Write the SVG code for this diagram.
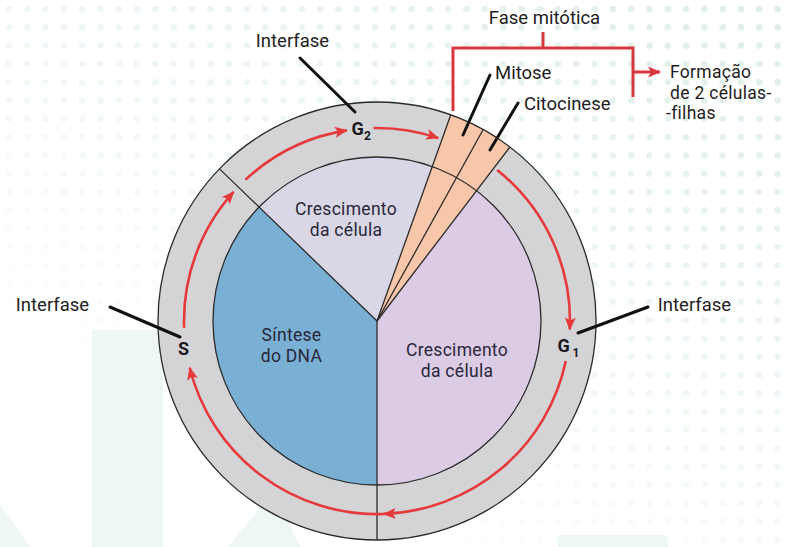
<svg xmlns="http://www.w3.org/2000/svg" width="792" height="547" viewBox="0 0 792 547">
<defs>
  <style>
    text { font-family: Roboto, "Liberation Sans", sans-serif; fill: #1f1d22; }
    .lbl { font-size: 18.5px; }
    .ml { font-size: 17.5px; letter-spacing: 0.3px; }
    .ph { font-size: 18px; font-weight: bold; fill: #1a181c; }
    .sub { font-size: 12px; font-weight: bold; fill: #1a181c; }
    .pie { font-size: 17.5px; letter-spacing: 0.3px; fill: #29273a; }
    .edge { stroke: #2a2a2a; stroke-width: 1.3; fill: none; }
    .leader { stroke: #111; stroke-width: 3; stroke-linecap: round; fill: none; }
    .cyc { stroke: #e5393c; stroke-width: 2.6; fill: none; marker-end: url(#ah); }
    .brk { stroke: #d8373d; stroke-width: 3; fill: none; }
    .wm { fill: #eef7f3; }
  </style>
  <marker id="ah" markerUnits="userSpaceOnUse" markerWidth="14" markerHeight="12" refX="12" refY="5.5" orient="auto">
    <path d="M0,0 L13,5.5 L0,11 L3,5.5 Z" fill="#e5393c"/>
  </marker>
  <marker id="ahb" markerUnits="userSpaceOnUse" markerWidth="14" markerHeight="12" refX="12" refY="5.5" orient="auto">
    <path d="M0,0 L13,5.5 L0,11 L3,5.5 Z" fill="#d8373d"/>
  </marker>
  <pattern id="dots" width="18.3" height="18.3" patternUnits="userSpaceOnUse">
    <circle cx="9" cy="9" r="3.3" fill="#ddeee6"/>
  </pattern>
  <linearGradient id="fade" x1="1" y1="0" x2="0.3" y2="0.9">
    <stop offset="0" stop-color="#fff" stop-opacity="1"/>
    <stop offset="0.6" stop-color="#fff" stop-opacity="0.4"/>
    <stop offset="1" stop-color="#fff" stop-opacity="0"/>
  </linearGradient>
  <mask id="dm">
    <rect x="0" y="0" width="792" height="547" fill="url(#fade)"/>
  </mask>
</defs>

<g id="background">
  <rect x="0" y="0" width="792" height="547" fill="#ffffff"/>
  <rect x="0" y="0" width="792" height="547" fill="url(#dots)" mask="url(#dm)"/>
  <rect class="wm" x="92" y="330" width="71" height="217"/>
  <polygon class="wm" points="0,505 30,547 0,547"/>
  <polygon class="wm" points="228,547 275,490 300,547"/>
  <rect class="wm" x="558" y="535" width="110" height="20" rx="5"/>
</g>

<g id="cycle">
  <circle id="ring" cx="377" cy="321" r="219" fill="#d4d4d6"/>
  <path id="sintese" d="M377,321 L377,485 A164,164 0 0 1 259.0,207.1 Z" fill="#79b0d4"/>
  <path id="crescimento-g2" d="M377,321 L259.0,207.1 A164,164 0 0 1 432.3,166.6 Z" fill="#d9d7e5"/>
  <path id="crescimento-g1" d="M377,321 L476.6,190.7 A164,164 0 0 1 377,485 Z" fill="#dccbe5"/>
  <path id="fase-mitotica" d="M377,321 L450.8,114.8 A219,219 0 0 1 510.0,147.0 Z" fill="#f8c6a9"/>
  <circle cx="377" cy="321" r="164" class="edge"/>
  <line class="edge" x1="377" y1="321" x2="377" y2="540"/>
  <line class="edge" x1="377" y1="321" x2="219.5" y2="168.9"/>
  <line class="edge" x1="377" y1="321" x2="450.8" y2="114.8"/>
  <line class="edge" x1="377" y1="321" x2="483.2" y2="129.5"/>
  <line class="edge" x1="377" y1="321" x2="510.0" y2="147.0"/>
  <circle cx="377" cy="321" r="219" class="edge"/>
</g>

<g id="connectors">
  <path class="cyc" d="M565.8,361.1 A193,193 0 0 1 383.7,513.9"/>
  <path class="cyc" d="M384,514 A193,193 0 0 1 189.7,367.7"/>
  <path class="cyc" d="M184.1,327.7 A193,193 0 0 1 233.6,191.9"/>
  <path class="cyc" d="M245.4,179.8 A193,193 0 0 1 346.8,130.4"/>
  <path class="cyc" d="M373.6,128.0 A193,193 0 0 1 438.2,138.0"/>
  <path class="cyc" d="M497.1,170.0 A193,193 0 0 1 569.8,329.4"/>
  <line class="leader" x1="300" y1="58" x2="355" y2="112"/>
  <line class="leader" x1="110" y1="307" x2="180" y2="337"/>
  <line class="leader" x1="648" y1="307" x2="578" y2="333"/>
  <line class="leader" x1="490" y1="75" x2="463" y2="135"/>
  <line class="leader" x1="518" y1="103" x2="490" y2="150"/>
  <polyline class="brk" points="453,111 453,48 633,48 633,97"/>
  <line class="brk" x1="543" y1="32" x2="543" y2="48"/>
  <line class="brk" x1="633" y1="72" x2="660" y2="72" marker-end="url(#ahb)"/>
</g>

<g id="label-interfase-top"><text class="lbl" x="292.5" y="47" text-anchor="middle">Interfase</text></g>
<g id="label-interfase-left"><text class="lbl" x="52.5" y="311" text-anchor="middle">Interfase</text></g>
<g id="label-interfase-right"><text class="lbl" x="694.5" y="311" text-anchor="middle">Interfase</text></g>
<g id="label-fase-mitotica"><text class="lbl" x="544.5" y="24" text-anchor="middle">Fase mitótica</text></g>
<g id="label-mitose"><text class="lbl" x="495" y="79">Mitose</text></g>
<g id="label-citocinese"><text class="lbl" x="524" y="110">Citocinese</text></g>
<g id="label-formacao">
  <text class="ml" x="670" y="78">Formação</text>
  <text class="ml" x="670" y="98.5">de 2 células-</text>
  <text class="ml" x="666" y="119">-filhas</text>
</g>
<g id="phase-g2"><text class="ph" x="351.5" y="134.5">G</text><text class="sub" x="364" y="139.5">2</text></g>
<g id="phase-s"><text class="ph" x="183.5" y="355" text-anchor="middle">S</text></g>
<g id="phase-g1"><text class="ph" x="557.5" y="351.5">G</text><text class="sub" x="572.5" y="356.5">1</text></g>
<g id="text-crescimento-g2">
  <text class="pie" x="346" y="215" text-anchor="middle">Crescimento</text>
  <text class="pie" x="346" y="235.5" text-anchor="middle">da célula</text>
</g>
<g id="text-sintese">
  <text class="pie" x="291.5" y="341" text-anchor="middle">Síntese</text>
  <text class="pie" x="291.5" y="361.5" text-anchor="middle">do DNA</text>
</g>
<g id="text-crescimento-g1">
  <text class="pie" x="457" y="356" text-anchor="middle">Crescimento</text>
  <text class="pie" x="457" y="376.5" text-anchor="middle">da célula</text>
</g>
</svg>
